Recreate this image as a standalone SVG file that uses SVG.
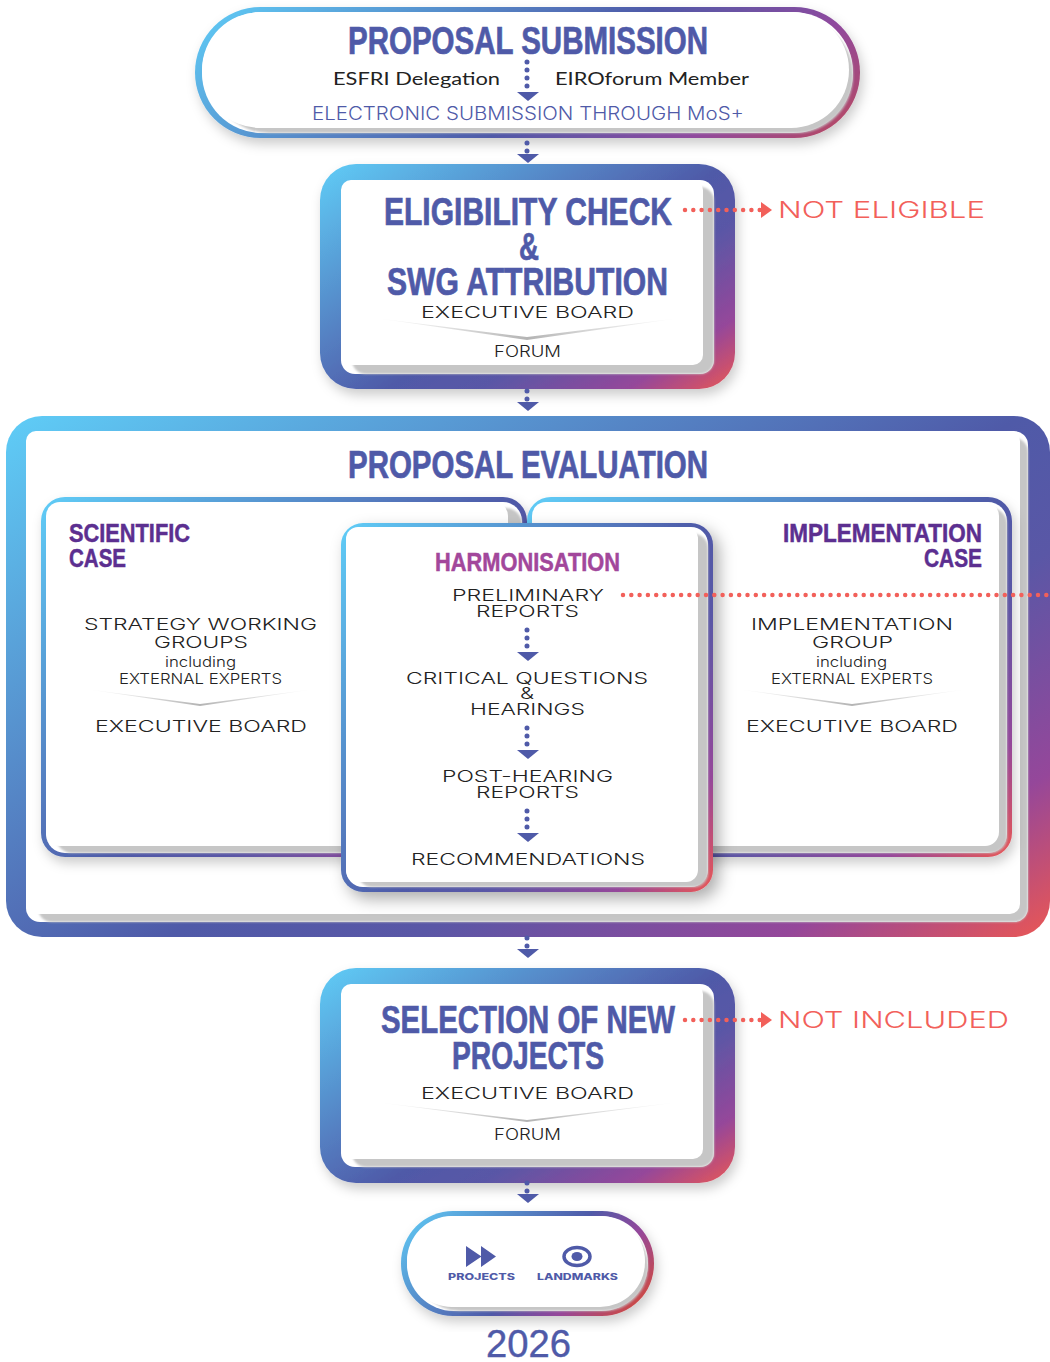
<svg xmlns="http://www.w3.org/2000/svg" xmlns:xlink="http://www.w3.org/1999/xlink" width="1050" height="1362" viewBox="0 0 1050 1362">
<style>
text{font-family:"Liberation Sans",Arial,sans-serif;}
.h{font-weight:700;font-size:38px;fill:#4f5aa8;stroke:#4f5aa8;stroke-width:.7;}
.h2{font-weight:700;font-size:26.5px;fill:#5c2f90;stroke:#5c2f90;stroke-width:.5;}
.m{font-weight:700;font-size:26.5px;fill:#a2479b;stroke:#a2479b;stroke-width:.5;}
.b{font-family:"Inter","Liberation Sans",sans-serif;font-weight:300;font-size:16.5px;fill:#222;}
.s{font-family:"Inter","Liberation Sans",sans-serif;font-weight:300;font-size:14.5px;fill:#222;}
.r{font-family:"Lato","Liberation Sans",sans-serif;font-size:17.5px;fill:#222;}
.e{font-family:"Inter","Liberation Sans",sans-serif;font-weight:300;font-size:18px;fill:#4f5aa8;}
.n{font-family:"Inter","Liberation Sans",sans-serif;font-weight:300;font-size:23px;fill:#f2605a;}
.l{font-family:"Inter","Liberation Sans",sans-serif;font-weight:800;font-size:9px;fill:#4f5aa8;}
.y{font-size:38px;fill:#4f5aa8;stroke:#4f5aa8;stroke-width:.4;}
.dots{stroke:#4f5aa8;stroke-width:5;stroke-linecap:round;stroke-dasharray:0 8;fill:none;}
.red{stroke:#f2605a;stroke-width:4.5;stroke-linecap:round;stroke-dasharray:0 8.3;fill:none;}
.rh{fill:#f2605a;}
.g{fill:#c6c6c6;filter:url(#blur);}
.w{fill:#fff;}
.chev{fill:url(#chev);}
.ah{fill:#4f5aa8;}
</style>
<defs>
<linearGradient id="gd" x1="0" y1="0" x2="1.1" y2=".9">
<stop offset="0" stop-color="#5fcdf7"/><stop offset=".53" stop-color="#4f5aa8"/><stop offset=".66" stop-color="#5a57a6"/><stop offset=".85" stop-color="#95479a"/><stop offset="1" stop-color="#f0584f"/>
</linearGradient>
<linearGradient id="gp" x1="0" y1="0" x2="1.2" y2=".3">
<stop offset="0" stop-color="#5fcdf7"/><stop offset=".54" stop-color="#4f5aa8"/><stop offset=".78" stop-color="#8f4a9e"/><stop offset=".9" stop-color="#a84a78"/><stop offset="1" stop-color="#c84a4c"/>
</linearGradient>
<linearGradient id="gq" x1="0" y1="0" x2="1.1" y2=".45">
<stop offset="0" stop-color="#5fcdf7"/><stop offset=".59" stop-color="#4f5aa8"/><stop offset=".8" stop-color="#95479a"/><stop offset="1" stop-color="#c84a4c"/>
</linearGradient>
<linearGradient id="chev" x1="0" x2="1" y1="0" y2="0">
<stop offset="0" stop-color="#c4c4c4" stop-opacity="0"/><stop offset=".5" stop-color="#b4b4b4"/><stop offset="1" stop-color="#c4c4c4" stop-opacity="0"/>
</linearGradient>
<filter id="blur" x="-5%" y="-5%" width="110%" height="110%"><feGaussianBlur stdDeviation="1"/></filter>
<filter id="sh" x="-10%" y="-10%" width="120%" height="125%"><feDropShadow dx="3" dy="6" stdDeviation="6" flood-color="#000" flood-opacity=".2"/></filter>
<filter id="sh2" x="-15%" y="-10%" width="130%" height="125%"><feDropShadow dx="6" dy="7" stdDeviation="8" flood-color="#000" flood-opacity=".32"/></filter>
<path id="ah" d="M-11 0H11L0 9Z"/>
</defs>

<g id="proposal-submission">
<rect x="195" y="7" width="665" height="131" rx="65.500" fill="url(#gp)" filter="url(#sh)"/>
<rect x="202" y="12" width="651" height="121" rx="60" class="w"/>
<rect x="212" y="18" width="641" height="115" rx="57" class="g"/>
<rect x="202" y="12" width="647" height="116" rx="58" class="w"/>
<text class="h" x="348" y="54" textLength="360" lengthAdjust="spacingAndGlyphs">PROPOSAL SUBMISSION</text>
<text class="r" x="333" y="85" textLength="167" lengthAdjust="spacingAndGlyphs">ESFRI Delegation</text>
<text class="r" x="555" y="85" textLength="194" lengthAdjust="spacingAndGlyphs">EIROforum Member</text>
<text class="e" x="312" y="120" textLength="432" lengthAdjust="spacingAndGlyphs">ELECTRONIC SUBMISSION THROUGH MoS+</text>
</g>

<g id="eligibility-check">
<rect x="320" y="164" width="415" height="225" rx="36" fill="url(#gd)" filter="url(#sh)"/>
<rect x="341" y="180" width="373" height="194" rx="14" class="w"/>
<rect x="352" y="187" width="362" height="187" rx="14" class="g"/>
<rect x="341" y="180" width="362" height="185" rx="10" class="w"/>
<text class="h" x="384" y="225" textLength="288" lengthAdjust="spacingAndGlyphs">ELIGIBILITY CHECK</text>
<text class="h" x="519" y="260" textLength="20" lengthAdjust="spacingAndGlyphs">&amp;</text>
<text class="h" x="387" y="295" textLength="281" lengthAdjust="spacingAndGlyphs">SWG ATTRIBUTION</text>
<text class="b" x="421" y="318" textLength="213" lengthAdjust="spacingAndGlyphs">EXECUTIVE BOARD</text>
<path class="chev" d="M375 318L527 337L680 318L527 340Z"/>
<text class="b" x="494" y="357" textLength="67" lengthAdjust="spacingAndGlyphs" style="font-size:15.500px">FORUM</text>
<text class="n" x="778" y="218" textLength="207" lengthAdjust="spacingAndGlyphs">NOT ELIGIBLE</text>
</g>

<g id="proposal-evaluation">
<rect x="6" y="416" width="1044" height="521" rx="36" fill="url(#gd)"/>
<rect x="26" y="431" width="1002" height="491" rx="14" class="w"/>
<rect x="38" y="438" width="990" height="484" rx="14" class="g"/>
<rect x="26" y="431" width="994" height="483" rx="10" class="w"/>
<text class="h" x="348" y="478" textLength="360" lengthAdjust="spacingAndGlyphs">PROPOSAL EVALUATION</text>
</g>

<g id="scientific-case">
<rect x="41" y="497" width="486" height="360" rx="24" fill="url(#gd)" filter="url(#sh)"/>
<rect x="46" y="502" width="476" height="351" rx="19" class="w"/>
<rect x="56" y="508" width="466" height="345" rx="16" class="g"/>
<rect x="46" y="502" width="462" height="344" rx="14" class="w"/>
<text class="h2" x="69" y="542" textLength="121" lengthAdjust="spacingAndGlyphs">SCIENTIFIC</text>
<text class="h2" x="69" y="567" textLength="57" lengthAdjust="spacingAndGlyphs">CASE</text>
<text class="b" x="84" y="630" textLength="233" lengthAdjust="spacingAndGlyphs">STRATEGY WORKING</text>
<text class="b" x="154" y="648" textLength="94" lengthAdjust="spacingAndGlyphs">GROUPS</text>
<text class="s" x="165" y="667" textLength="71" lengthAdjust="spacingAndGlyphs">including</text>
<text class="s" x="119" y="684" textLength="163" lengthAdjust="spacingAndGlyphs">EXTERNAL EXPERTS</text>
<path class="chev" d="M85 689L200 704L315 689L200 706Z"/>
<text class="b" x="95" y="732" textLength="212" lengthAdjust="spacingAndGlyphs">EXECUTIVE BOARD</text>
</g>

<g id="implementation-case">
<rect x="527" y="497" width="485" height="360" rx="24" fill="url(#gd)" filter="url(#sh)"/>
<rect x="532" y="502" width="475" height="351" rx="19" class="w"/>
<rect x="545" y="508" width="462" height="345" rx="16" class="g"/>
<rect x="532" y="502" width="467" height="344" rx="14" class="w"/>
<text class="h2" x="783" y="542" textLength="199" lengthAdjust="spacingAndGlyphs">IMPLEMENTATION</text>
<text class="h2" x="924" y="567" textLength="58" lengthAdjust="spacingAndGlyphs">CASE</text>
<text class="b" x="751" y="630" textLength="202" lengthAdjust="spacingAndGlyphs">IMPLEMENTATION</text>
<text class="b" x="812" y="648" textLength="81" lengthAdjust="spacingAndGlyphs">GROUP</text>
<text class="s" x="816" y="667" textLength="71" lengthAdjust="spacingAndGlyphs">including</text>
<text class="s" x="771" y="684" textLength="162" lengthAdjust="spacingAndGlyphs">EXTERNAL EXPERTS</text>
<path class="chev" d="M736 689L852 704L969 689L852 706Z"/>
<text class="b" x="746" y="732" textLength="212" lengthAdjust="spacingAndGlyphs">EXECUTIVE BOARD</text>
</g>

<g id="harmonisation">
<rect x="341" y="523" width="372" height="369" rx="22" fill="url(#gd)" filter="url(#sh2)"/>
<rect x="346" y="527" width="362" height="360" rx="17" class="w"/>
<rect x="358" y="534" width="350" height="353" rx="14" class="g"/>
<rect x="346" y="527" width="352" height="355" rx="12" class="w"/>
<text class="m" x="435" y="571" textLength="185" lengthAdjust="spacingAndGlyphs">HARMONISATION</text>
<text class="b" x="452" y="601" textLength="152" lengthAdjust="spacingAndGlyphs">PRELIMINARY</text>
<text class="b" x="476" y="617" textLength="103" lengthAdjust="spacingAndGlyphs">REPORTS</text>
<text class="b" x="406" y="684" textLength="242" lengthAdjust="spacingAndGlyphs">CRITICAL QUESTIONS</text>
<text class="b" x="520" y="699" textLength="14" lengthAdjust="spacingAndGlyphs">&amp;</text>
<text class="b" x="470" y="715" textLength="115" lengthAdjust="spacingAndGlyphs">HEARINGS</text>
<text class="b" x="442" y="782" textLength="171" lengthAdjust="spacingAndGlyphs">POST-HEARING</text>
<text class="b" x="476" y="798" textLength="103" lengthAdjust="spacingAndGlyphs">REPORTS</text>
<text class="b" x="411" y="865" textLength="234" lengthAdjust="spacingAndGlyphs">RECOMMENDATIONS</text>
</g>

<g id="selection">
<rect x="320" y="968" width="415" height="215" rx="36" fill="url(#gd)" filter="url(#sh)"/>
<rect x="341" y="984" width="373" height="183" rx="14" class="w"/>
<rect x="352" y="991" width="362" height="176" rx="14" class="g"/>
<rect x="341" y="984" width="362" height="175" rx="10" class="w"/>
<text class="h" x="381" y="1033" textLength="294" lengthAdjust="spacingAndGlyphs">SELECTION OF NEW</text>
<text class="h" x="452" y="1069" textLength="152" lengthAdjust="spacingAndGlyphs">PROJECTS</text>
<text class="b" x="421" y="1099" textLength="213" lengthAdjust="spacingAndGlyphs">EXECUTIVE BOARD</text>
<path class="chev" d="M375 1102L527 1120L680 1102L527 1122Z"/>
<text class="b" x="494" y="1140" textLength="67" lengthAdjust="spacingAndGlyphs" style="font-size:15.500px">FORUM</text>
<text class="n" x="778" y="1028" textLength="231" lengthAdjust="spacingAndGlyphs">NOT INCLUDED</text>
</g>

<g id="outcome">
<rect x="401" y="1211" width="253" height="105" rx="52" fill="url(#gq)" filter="url(#sh)"/>
<rect x="407" y="1216" width="241" height="95" rx="47" class="w"/>
<rect x="416" y="1222" width="232" height="89" rx="44" class="g"/>
<rect x="407" y="1216" width="238" height="91" rx="45" class="w"/>
<path class="ah" d="M466 1246L481.500 1256.500L466 1267ZM481 1246L496 1256.500L481 1267Z"/>
<ellipse cx="577" cy="1256.500" rx="13" ry="9" fill="none" stroke="#4f5aa8" stroke-width="3.500"/>
<ellipse cx="577" cy="1256.500" rx="5.500" ry="4.500" class="ah"/>
<text class="l" x="448" y="1280" textLength="67" lengthAdjust="spacingAndGlyphs">PROJECTS</text>
<text class="l" x="537" y="1280" textLength="81" lengthAdjust="spacingAndGlyphs">LANDMARKS</text>
<text class="y" x="486" y="1357" textLength="85" lengthAdjust="spacingAndGlyphs">2026</text>
</g>

<g id="connectors">
<line class="dots" x1="527" y1="62" x2="527" y2="88"/><use href="#ah" class="ah" x="528" y="92"/>
<line class="dots" x1="527" y1="143" x2="527" y2="152"/><use href="#ah" class="ah" x="528" y="154"/>
<line class="dots" x1="527" y1="391" x2="527" y2="400"/><use href="#ah" class="ah" x="528" y="402"/>
<line class="dots" x1="527" y1="938" x2="527" y2="947"/><use href="#ah" class="ah" x="528" y="949"/>
<line class="dots" x1="527" y1="1183" x2="527" y2="1192"/><use href="#ah" class="ah" x="528" y="1194"/>
<line class="dots" x1="527" y1="630" x2="527" y2="647"/><use href="#ah" class="ah" x="528" y="652"/>
<line class="dots" x1="527" y1="728" x2="527" y2="745"/><use href="#ah" class="ah" x="528" y="750"/>
<line class="dots" x1="527" y1="811" x2="527" y2="828"/><use href="#ah" class="ah" x="528" y="833"/>
<line class="red" x1="685" y1="210" x2="760" y2="210"/><path class="rh" d="M761 202L772 210L761 218Z"/>
<line class="red" x1="685" y1="1020" x2="760" y2="1020"/><path class="rh" d="M761 1012L772 1020L761 1028Z"/>
<line class="red" x1="623" y1="595" x2="1050" y2="595"/>
</g>
</svg>
